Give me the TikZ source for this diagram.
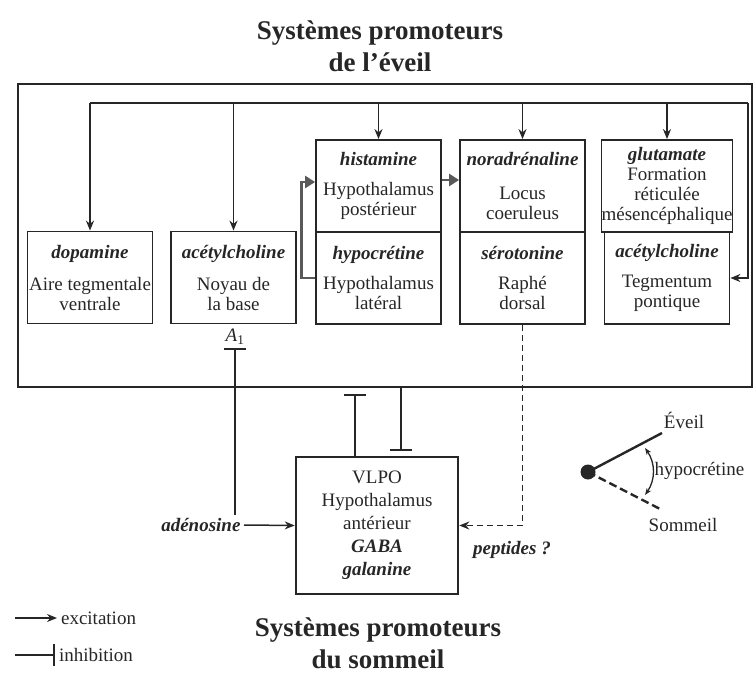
\documentclass[tikz,border=0pt]{standalone}
\usepackage{fontspec}
\setmainfont{Liberation Serif}
\usetikzlibrary{arrows.meta}

\tikzset{
  boite/.style={draw, line width=1.8pt, minimum width=125pt, minimum height=92pt,
    inner sep=0pt, align=center, font=\fontsize{19}{20}\selectfont},
  exc/.style={-{Stealth[length=10pt,width=8pt]}, line width=1.5pt},
  inh/.style={-{Bar[width=22pt,line width=2pt]}, line width=1.5pt},
  epais/.style={-{Triangle[length=10pt,width=12pt]}, line width=2.8pt, black!65},
  pointilles/.style={dash pattern=on 6pt off 4pt},
  titre/.style={align=center, font=\fontsize{27}{32}\selectfont\bfseries},
  texte/.style={font=\fontsize{19}{20}\selectfont},
}
\newcommand{\nt}[1]{\textbf{\textit{#1}}}

\begin{document}
\begin{tikzpicture}[x=1pt,y=-1pt,black!85]
    \useasboundingbox (0,0) rectangle (756,680);

    % titres
    \node[titre] (teveil) at (380,46) {Systèmes promoteurs\\de l'éveil};
    \node[titre] (tsommeil) at (378,643) {Systèmes promoteurs\\du sommeil};

    % cadre de l'eveil
    \node[draw, line width=2.6pt, minimum width=734pt, minimum height=303pt] (eveil) at (385,235.5) {};

    % noyaux
    \node[boite] (dop) at (90,277.5) {\nt{dopamine}\\[12pt]Aire tegmentale\\ventrale};
    \node[boite] (ach) at (233.5,277.5) {\nt{acétylcholine}\\[12pt]Noyau de\\la base};
    \node[boite] (hist) at (378.5,186) {\nt{histamine}\\[10pt]Hypothalamus\\postérieur};
    \node[boite] (hypo) at (378.5,278) {\nt{hypocrétine}\\[10pt]Hypothalamus\\latéral};
    \node[boite] (nor) at (522.5,186) {\nt{noradrénaline}\\[14pt]Locus\\coeruleus};
    \node[boite] (sero) at (522.5,278) {\nt{sérotonine}\\[10pt]Raphé\\dorsal};
    \node[boite] (glu) at (667,186) {\nt{glutamate}\\Formation\\réticulée\\mésencéphalique};
    \node[boite] (ach2) at (667,278) {\nt{acétylcholine}\\[10pt]Tegmentum\\pontique};

    % bus d'excitation
    \coordinate (busL) at (90,103);
    \coordinate (busR) at (748,103);
    \draw[line width=1.5pt] (busL) -- (busR);
    \draw[exc] (busL) -- (dop.north);
    \draw[exc] (ach.north |- busL) -- (ach.north);
    \draw[exc] (hist.north |- busL) -- (hist.north);
    \draw[exc] (nor.north |- busL) -- (nor.north);
    \draw[exc] (glu.north |- busL) -- (glu.north);
    \draw[exc] (busR) |- (ach2.east);

    % hypocretine
    \draw[epais] (hypo.west) -- ++(-14,0) |- ([yshift=4pt]hist.west);
    \draw[epais] ([yshift=6pt]hist.east) -- ([yshift=6pt]nor.west);

    % sommeil
    \node[draw, line width=2.6pt, minimum width=162pt, minimum height=137pt, align=center,
      font=\fontsize{19}{23}\selectfont] (vlpo) at (377,525.5)
      {VLPO\\Hypothalamus\\antérieur\\\nt{GABA}\\\nt{galanine}};
    \node[texte] (a1) at (235,337) {\textit{A}\textsubscript{1}};
    \node[texte, anchor=east] (adeno) at (244,525) {\nt{adénosine}};
    \node[texte] (pept) at (512,550) {\nt{peptides ?}};
    \coordinate (h1) at (355,394);
    \coordinate (h2) at (401,451);

    \draw[inh] (adeno.north -| a1) -- (a1.south);
    \draw[exc] (adeno.east) -- (vlpo.west);
    \draw[inh] (vlpo.north -| h1) -- (h1);
    \draw[inh] (eveil.south -| h2) -- (h2);
    \draw[exc, pointilles, line width=1.3pt] (sero.south) |- (vlpo.east);

    % bascule
    \node[circle, fill, inner sep=0pt, minimum size=15pt] (bas) at (588,472) {};
    \coordinate (fev) at (662,433);
    \coordinate (fso) at (662,510);
    \draw[line width=2.4pt] (bas.center) -- (fev);
    \draw[line width=2.4pt, dash pattern=on 8pt off 4pt] (bas.center) -- (fso);
    \node[texte] (lev) at (684,420) {Éveil};
    \node[texte] (lso) at (683,525) {Sommeil};
    \coordinate (c1) at (645,448);
    \coordinate (c2) at (645,495);
    \draw[{Stealth[length=7pt]}-{Stealth[length=7pt]}, line width=1.3pt] (c1) to[bend left=35] (c2);
    \node[texte, anchor=west] (lhyp) at (651,471) {hypocrétine};

    % legende
    \coordinate (l1) at (15,618);
    \coordinate (l2) at (15,655);
    \draw[exc] (l1) -- ++(42,0) node[texte, anchor=west, black!85] (lexc) {excitation};
    \draw[inh] (l2) -- ++(40,0) node[texte, anchor=west, black!85] (linh) {inhibition};
\end{tikzpicture}
\end{document}
